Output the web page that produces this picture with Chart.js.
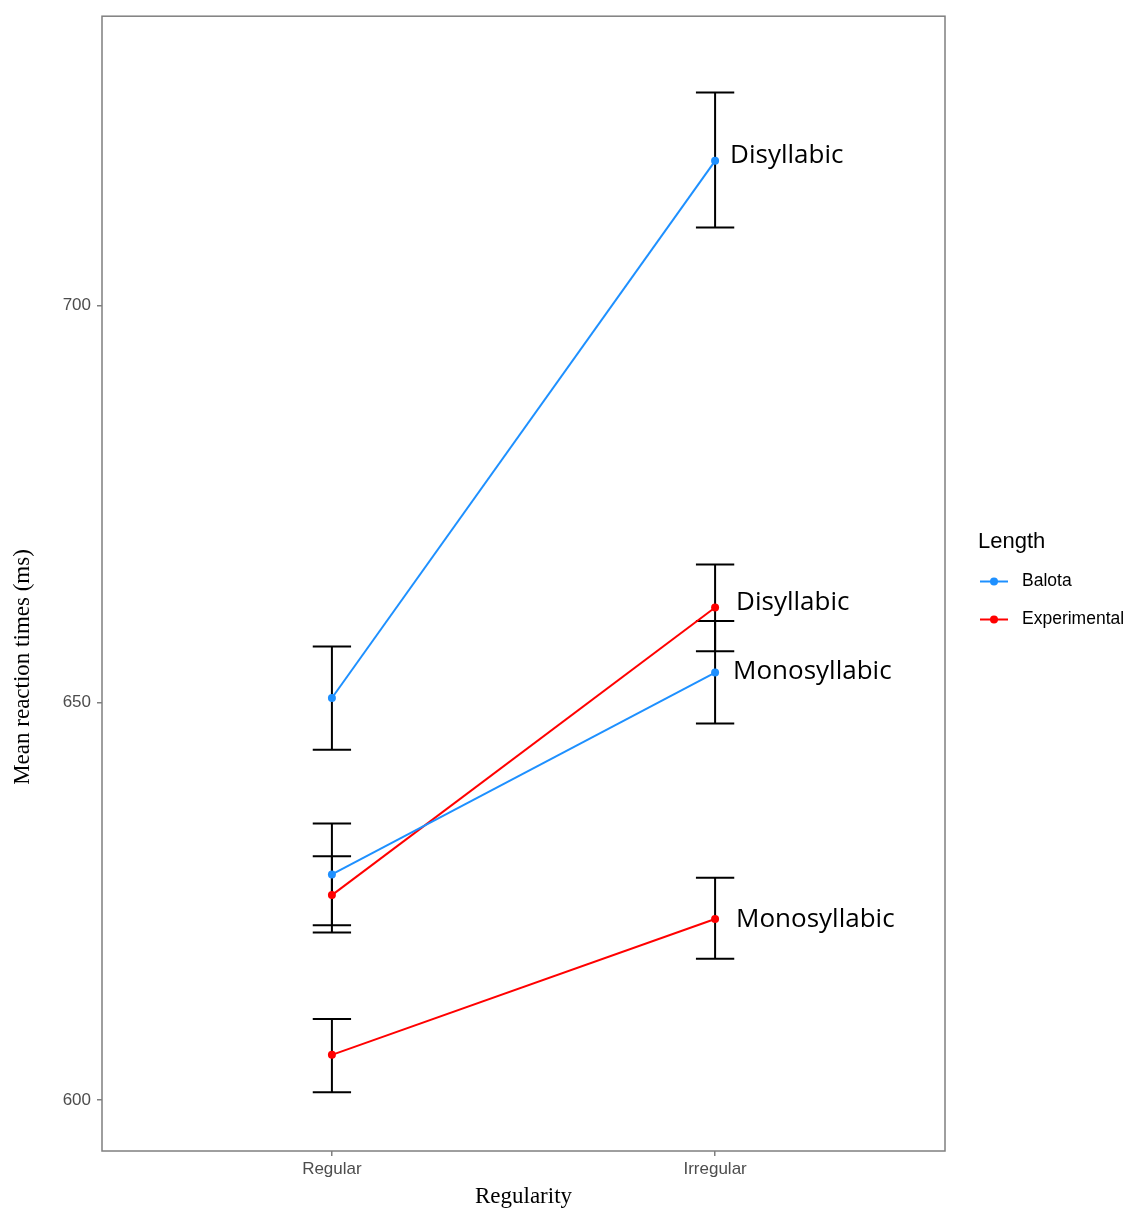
<!DOCTYPE html>
<html><head><meta charset="utf-8">
<script src="https://cdn.jsdelivr.net/npm/chart.js@4.4.0/dist/chart.umd.min.js"></script>
<style>html,body{margin:0;padding:0;background:#fff;} #wrap{width:1128px;height:1212px;}</style>
</head><body><div id="wrap"><canvas id="c" width="1128" height="1212"></canvas></div>
<script>
// ---- data ----
const categories = ['Regular', 'Irregular'];
const yTicks = [600, 650, 700];
const seriesNames = ['Balota', 'Experimental'];

const balotaDisMean  = [650.6, 718.2];
const balotaDisLow   = [644.1, 709.8];
const balotaDisHigh  = [657.1, 726.8];
const balotaMonoMean = [628.4, 653.8];
const balotaMonoLow  = [622.0, 647.4];
const balotaMonoHigh = [634.8, 660.3];
const expDisMean     = [625.8, 662.0];
const expDisLow      = [621.1, 656.5];
const expDisHigh     = [630.7, 667.4];
const expMonoMean    = [605.7, 622.8];
const expMonoLow     = [601.0, 617.8];
const expMonoHigh    = [610.2, 628.0];

const BLUE = '#1E90FF', RED = '#FF0000';
const catX = categories.map((c, i) => i + 1);
const pts = arr => arr.map((v, i) => ({x: catX[i], y: v}));

const groups = [
  {name: 'Balota Disyllabic',       color: BLUE, mean: balotaDisMean,  low: balotaDisLow,  high: balotaDisHigh,  label: 'Disyllabic',   dx: 15, dy: 2},
  {name: 'Balota Monosyllabic',     color: BLUE, mean: balotaMonoMean, low: balotaMonoLow, high: balotaMonoHigh, label: 'Monosyllabic', dx: 18, dy: 6},
  {name: 'Experimental Disyllabic', color: RED,  mean: expDisMean,     low: expDisLow,     high: expDisHigh,     label: 'Disyllabic',   dx: 21, dy: 3},
  {name: 'Experimental Monosyllabic', color: RED, mean: expMonoMean,   low: expMonoLow,    high: expMonoHigh,    label: 'Monosyllabic', dx: 21, dy: 8}
];

const datasets = groups.map(g => ({
  label: g.name,
  data: pts(g.mean),
  borderColor: g.color,
  backgroundColor: g.color,
  borderWidth: 2,
  pointRadius: 4,
  pointHoverRadius: 4,
  pointBorderWidth: 0,
  tension: 0,
  fill: false
}));

const tickFont = {family: 'Liberation Sans, Arial, sans-serif', size: 17};
const GRAY = '#7f7f7f';

const extras = {
  id: 'extras',
  beforeDatasetsDraw(chart) {
    const {ctx, scales: {x, y}} = chart;
    ctx.save();
    ctx.strokeStyle = '#000';
    ctx.lineWidth = 2;
    groups.forEach(g => {
      g.mean.forEach((m, i) => {
        const px = x.getPixelForValue(catX[i]);
        const x0 = x.getPixelForValue(catX[i] - 0.05);
        const x1 = x.getPixelForValue(catX[i] + 0.05);
        const yl = y.getPixelForValue(g.low[i]);
        const yh = y.getPixelForValue(g.high[i]);
        ctx.beginPath();
        ctx.moveTo(px, yl); ctx.lineTo(px, yh);
        ctx.moveTo(x0, yl); ctx.lineTo(x1, yl);
        ctx.moveTo(x0, yh); ctx.lineTo(x1, yh);
        ctx.stroke();
      });
    });
    ctx.restore();
  },
  afterDraw(chart) {
    const {ctx, chartArea: a, scales: {x, y}} = chart;
    ctx.save();
    // panel border
    ctx.strokeStyle = GRAY;
    ctx.lineWidth = 1.5;
    ctx.strokeRect(a.left, a.top, a.right - a.left, a.bottom - a.top);
    // annotations
    ctx.fillStyle = '#000';
    ctx.font = '26px "Open Sans", sans-serif';
    ctx.textAlign = 'left';
    ctx.textBaseline = 'alphabetic';
    groups.forEach(g => {
      const i = g.mean.length - 1;
      ctx.fillText(g.label, x.getPixelForValue(catX[i]) + g.dx, y.getPixelForValue(g.mean[i]) + g.dy);
    });
    // axis titles
    ctx.font = '23px "Liberation Serif", "Times New Roman", serif';
    ctx.textAlign = 'center';
    ctx.textBaseline = 'middle';
    ctx.fillText('Regularity', (a.left + a.right) / 2, 1197);
    ctx.save();
    ctx.translate(23, 667);
    ctx.rotate(-Math.PI / 2);
    ctx.fillText('Mean reaction times (ms)', 0, 0);
    ctx.restore();
    // legend
    ctx.textAlign = 'left';
    ctx.font = '22px "Liberation Sans", Arial, sans-serif';
    ctx.fillStyle = '#000';
    ctx.textBaseline = 'alphabetic';
    ctx.fillText('Length', 978, 548);
    const colors = [BLUE, RED];
    const ly = [581.5, 619.5];
    ctx.font = '17.5px "Liberation Sans", Arial, sans-serif';
    seriesNames.forEach((n, k) => {
      ctx.strokeStyle = colors[k];
      ctx.lineWidth = 2;
      ctx.beginPath(); ctx.moveTo(980, ly[k]); ctx.lineTo(1008, ly[k]); ctx.stroke();
      ctx.fillStyle = colors[k];
      ctx.beginPath(); ctx.arc(994, ly[k], 4, 0, Math.PI * 2); ctx.fill();
      ctx.fillStyle = '#000';
      ctx.textBaseline = 'middle';
      ctx.fillText(n, 1022, ly[k]);
    });
    ctx.restore();
  }
};

new Chart(document.getElementById('c'), {
  type: 'line',
  data: {datasets},
  options: {
    responsive: false,
    animation: false,
    devicePixelRatio: 1,
    layout: {padding: {top: 13, right: 183, left: 0, bottom: 0}},
    plugins: {legend: {display: false}, tooltip: {enabled: false}},
    scales: {
      x: {
        type: 'linear', min: 0.4, max: 2.6,
        afterBuildTicks: s => { s.ticks = catX.map(v => ({value: v})); },
        afterFit: s => { s.height = 61; },
        ticks: {callback: v => categories[v - 1], font: tickFont, color: '#4d4d4d', padding: 3, maxRotation: 0},
        grid: {display: true, drawOnChartArea: false, drawTicks: true, tickLength: 5, color: GRAY, lineWidth: 1.5},
        border: {display: false}
      },
      y: {
        type: 'linear', min: 593.6, max: 736.4,
        afterBuildTicks: s => { s.ticks = yTicks.map(v => ({value: v})); },
        afterFit: s => { s.width = 102; },
        ticks: {font: tickFont, color: '#4d4d4d', padding: 6},
        grid: {display: true, drawOnChartArea: false, drawTicks: true, tickLength: 5, color: GRAY, lineWidth: 1.5},
        border: {display: false}
      }
    }
  },
  plugins: [extras]
});
</script>
</body></html>
